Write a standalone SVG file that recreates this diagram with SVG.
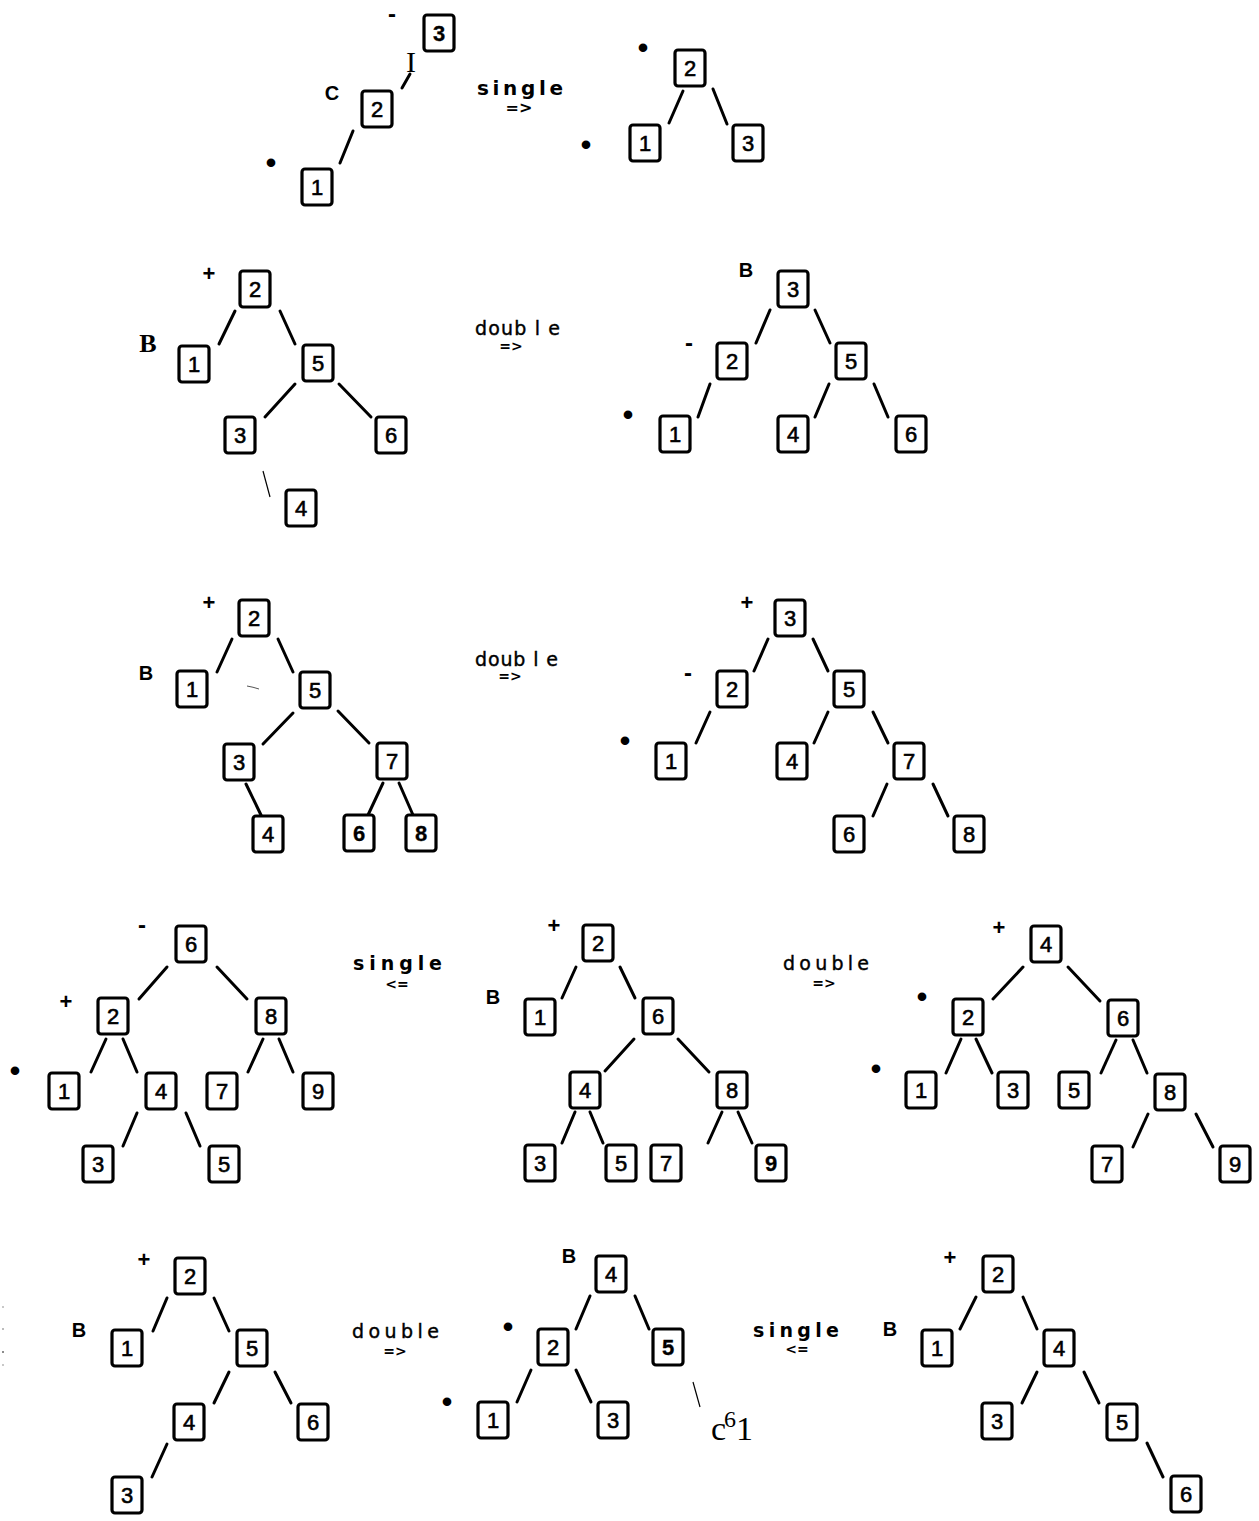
<svg xmlns="http://www.w3.org/2000/svg" width="1259" height="1521" viewBox="0 0 1259 1521">
  <style>
    .box { fill: #fff; stroke: #000; stroke-width: 3.2; }
    .num { font-family: "Liberation Sans", Arial, sans-serif; font-size: 22px; text-anchor: middle; fill: #000; stroke: #000; stroke-width: 0.6; }
    .bold { font-weight: bold; stroke-width: 0.3; }
    .edge { stroke: #000; stroke-width: 3; stroke-linecap: round; fill: none; }
    .thin { stroke: #000; stroke-width: 1.2; fill: none; }
    .mark { font-family: "Liberation Sans", Arial, sans-serif; font-weight: bold; text-anchor: middle; fill: #000; }
    .plus { font-size: 22px; }
    .minus { font-size: 24px; }
    .dot { font-size: 30px; }
    .bal { font-family: "Liberation Sans", Arial, sans-serif; font-size: 20px; font-weight: bold; text-anchor: middle; fill: #000; }
    .serif { font-family: "Liberation Serif", "Times New Roman", serif; fill: #000; }
    .op { font-family: "DejaVu Sans", sans-serif; fill: #000; stroke: #000; stroke-width: 0.4; }
    .opb { font-family: "DejaVu Sans", sans-serif; font-weight: bold; fill: #000; }
    .arrow { font-family: "DejaVu Sans", sans-serif; font-weight: bold; text-anchor: middle; fill: #000; }
  </style>
  <defs>
    <rect id="frame" x="-15" y="-18" width="30" height="36" rx="3" ry="3" class="box"/>
  </defs>

  <!-- tree edges -->
  <g id="connectors">
    <!-- row 1 -->
    <line class="edge" x1="353" y1="131" x2="340" y2="163"/>
    <line class="edge" x1="410" y1="74" x2="402" y2="88"/>
    <line class="edge" x1="683" y1="91" x2="669" y2="123"/>
    <line class="edge" x1="713" y1="89" x2="727" y2="124"/>
    <!-- row 2 -->
    <line class="edge" x1="235" y1="311" x2="219" y2="344"/>
    <line class="edge" x1="280" y1="311" x2="295" y2="344"/>
    <line class="edge" x1="295" y1="384" x2="265" y2="417"/>
    <line class="edge" x1="339" y1="384" x2="371" y2="417"/>
    <line class="thin" x1="263" y1="471" x2="270" y2="497"/>
    <line class="edge" x1="770" y1="310" x2="756" y2="343"/>
    <line class="edge" x1="815" y1="310" x2="830" y2="343"/>
    <line class="edge" x1="710" y1="384" x2="698" y2="417"/>
    <line class="edge" x1="829" y1="384" x2="815" y2="417"/>
    <line class="edge" x1="874" y1="384" x2="888" y2="417"/>
    <!-- row 3 -->
    <line class="edge" x1="232" y1="639" x2="217" y2="672"/>
    <line class="edge" x1="278" y1="639" x2="293" y2="672"/>
    <line class="edge" x1="293" y1="713" x2="263" y2="744"/>
    <line class="edge" x1="338" y1="711" x2="369" y2="743"/>
    <line class="edge" x1="246" y1="784" x2="261" y2="815"/>
    <line class="edge" x1="383" y1="783" x2="368" y2="815"/>
    <line class="edge" x1="399" y1="783" x2="413" y2="815"/>
    <line class="edge" x1="768" y1="639" x2="754" y2="671"/>
    <line class="edge" x1="813" y1="639" x2="828" y2="671"/>
    <line class="edge" x1="710" y1="712" x2="696" y2="743"/>
    <line class="edge" x1="828" y1="712" x2="814" y2="743"/>
    <line class="edge" x1="873" y1="712" x2="888" y2="743"/>
    <line class="edge" x1="887" y1="784" x2="873" y2="816"/>
    <line class="edge" x1="933" y1="784" x2="948" y2="816"/>
    <!-- row 4 -->
    <line class="edge" x1="167" y1="967" x2="139" y2="999"/>
    <line class="edge" x1="217" y1="967" x2="247" y2="999"/>
    <line class="edge" x1="106" y1="1039" x2="91" y2="1072"/>
    <line class="edge" x1="123" y1="1039" x2="137" y2="1072"/>
    <line class="edge" x1="263" y1="1039" x2="248" y2="1072"/>
    <line class="edge" x1="279" y1="1039" x2="293" y2="1072"/>
    <line class="edge" x1="137" y1="1113" x2="123" y2="1146"/>
    <line class="edge" x1="186" y1="1113" x2="200" y2="1146"/>
    <line class="edge" x1="576" y1="967" x2="562" y2="998"/>
    <line class="edge" x1="620" y1="967" x2="635" y2="998"/>
    <line class="edge" x1="634" y1="1039" x2="605" y2="1071"/>
    <line class="edge" x1="678" y1="1039" x2="709" y2="1072"/>
    <line class="edge" x1="575" y1="1112" x2="562" y2="1143"/>
    <line class="edge" x1="590" y1="1112" x2="603" y2="1143"/>
    <line class="edge" x1="722" y1="1112" x2="708" y2="1143"/>
    <line class="edge" x1="738" y1="1112" x2="752" y2="1143"/>
    <line class="edge" x1="1023" y1="967" x2="993" y2="999"/>
    <line class="edge" x1="1068" y1="967" x2="1100" y2="1001"/>
    <line class="edge" x1="961" y1="1039" x2="946" y2="1073"/>
    <line class="edge" x1="976" y1="1039" x2="992" y2="1073"/>
    <line class="edge" x1="1116" y1="1040" x2="1101" y2="1073"/>
    <line class="edge" x1="1133" y1="1040" x2="1147" y2="1073"/>
    <line class="edge" x1="1148" y1="1114" x2="1133" y2="1147"/>
    <line class="edge" x1="1196" y1="1114" x2="1213" y2="1147"/>
    <!-- row 5 -->
    <line class="edge" x1="167" y1="1298" x2="153" y2="1331"/>
    <line class="edge" x1="214" y1="1298" x2="229" y2="1331"/>
    <line class="edge" x1="229" y1="1372" x2="214" y2="1403"/>
    <line class="edge" x1="275" y1="1372" x2="291" y2="1403"/>
    <line class="edge" x1="167" y1="1444" x2="152" y2="1477"/>
    <line class="edge" x1="590" y1="1296" x2="576" y2="1329"/>
    <line class="edge" x1="635" y1="1296" x2="649" y2="1329"/>
    <line class="edge" x1="531" y1="1370" x2="517" y2="1402"/>
    <line class="edge" x1="576" y1="1370" x2="591" y2="1402"/>
    <line class="thin" x1="693" y1="1382" x2="700" y2="1407"/>
    <line class="edge" x1="976" y1="1297" x2="960" y2="1329"/>
    <line class="edge" x1="1023" y1="1297" x2="1037" y2="1329"/>
    <line class="edge" x1="1037" y1="1372" x2="1022" y2="1403"/>
    <line class="edge" x1="1084" y1="1372" x2="1099" y2="1403"/>
    <line class="edge" x1="1147" y1="1443" x2="1163" y2="1477"/>
  </g>

  <!-- row 1, left: before single rotation -->
  <g id="r1-left">
    <g id="r1l-n3" transform="translate(439,33)"><use href="#frame"/><text class="num bold" y="8">3</text></g>
    <g id="r1l-n2" transform="translate(377,109)"><use href="#frame"/><text class="num" y="8">2</text></g>
    <g id="r1l-n1" transform="translate(317,187)"><use href="#frame"/><text class="num" y="8">1</text></g>
    <text class="mark minus" x="392" y="22">-</text>
    <text class="bal" x="332" y="100">C</text>
    <text class="serif" x="411" y="72" font-size="30" text-anchor="middle">I</text>
    <text class="mark dot" x="271" y="173">•</text>
  </g>
  <g id="r1-op">
    <text class="opb" x="477" y="95" font-size="20" textLength="86" lengthAdjust="spacing">single</text>
    <text class="arrow" x="519" y="113" font-size="16">=&gt;</text>
  </g>
  <g id="r1-right">
    <g id="r1r-n2" transform="translate(690,68)"><use href="#frame"/><text class="num" y="8">2</text></g>
    <g id="r1r-n1" transform="translate(645,143)"><use href="#frame"/><text class="num" y="8">1</text></g>
    <g id="r1r-n3" transform="translate(748,143)"><use href="#frame"/><text class="num" y="8">3</text></g>
    <text class="mark dot" x="643" y="58">•</text>
    <text class="mark dot" x="586" y="155">•</text>
  </g>

  <!-- row 2 -->
  <g id="r2-left">
    <g id="r2l-n2" transform="translate(255,289)"><use href="#frame"/><text class="num" y="8">2</text></g>
    <g id="r2l-n1" transform="translate(194,364)"><use href="#frame"/><text class="num" y="8">1</text></g>
    <g id="r2l-n5" transform="translate(318,363)"><use href="#frame"/><text class="num" y="8">5</text></g>
    <g id="r2l-n3" transform="translate(240,435)"><use href="#frame"/><text class="num" y="8">3</text></g>
    <g id="r2l-n6" transform="translate(391,435)"><use href="#frame"/><text class="num" y="8">6</text></g>
    <g id="r2l-n4" transform="translate(301,508)"><use href="#frame"/><text class="num" y="8">4</text></g>
    <text class="mark plus" x="209" y="281">+</text>
    <text class="serif" x="148" y="352" font-size="26" font-weight="bold" text-anchor="middle">B</text>
  </g>
  <g id="r2-op">
    <text class="op" x="475" y="335" font-size="19" textLength="85" lengthAdjust="spacing">doub l e</text>
    <text class="arrow" x="511" y="351" font-size="14">=&gt;</text>
  </g>
  <g id="r2-right">
    <g id="r2r-n3" transform="translate(793,289)"><use href="#frame"/><text class="num" y="8">3</text></g>
    <g id="r2r-n2" transform="translate(732,361)"><use href="#frame"/><text class="num" y="8">2</text></g>
    <g id="r2r-n5" transform="translate(851,361)"><use href="#frame"/><text class="num" y="8">5</text></g>
    <g id="r2r-n1" transform="translate(675,434)"><use href="#frame"/><text class="num" y="8">1</text></g>
    <g id="r2r-n4" transform="translate(793,434)"><use href="#frame"/><text class="num" y="8">4</text></g>
    <g id="r2r-n6" transform="translate(911,434)"><use href="#frame"/><text class="num" y="8">6</text></g>
    <text class="bal" x="746" y="277">B</text>
    <text class="mark minus" x="689" y="351">-</text>
    <text class="mark dot" x="628" y="425">•</text>
  </g>

  <!-- row 3 -->
  <g id="r3-left">
    <g id="r3l-n2" transform="translate(254,618)"><use href="#frame"/><text class="num" y="8">2</text></g>
    <g id="r3l-n1" transform="translate(192,689)"><use href="#frame"/><text class="num" y="8">1</text></g>
    <g id="r3l-n5" transform="translate(315,690)"><use href="#frame"/><text class="num" y="8">5</text></g>
    <g id="r3l-n3" transform="translate(239,762)"><use href="#frame"/><text class="num" y="8">3</text></g>
    <g id="r3l-n7" transform="translate(392,761)"><use href="#frame"/><text class="num" y="8">7</text></g>
    <g id="r3l-n4" transform="translate(268,834)"><use href="#frame"/><text class="num" y="8">4</text></g>
    <g id="r3l-n6" transform="translate(359,833)"><use href="#frame"/><text class="num bold" y="8">6</text></g>
    <g id="r3l-n8" transform="translate(421,833)"><use href="#frame"/><text class="num bold" y="8">8</text></g>
    <text class="mark plus" x="209" y="610">+</text>
    <text class="bal" x="146" y="680">B</text>
    <path d="M247 686 Q253 687 259 689" stroke="#555" stroke-width="1" fill="none"/>
  </g>
  <g id="r3-op">
    <text class="op" x="475" y="666" font-size="19" textLength="83" lengthAdjust="spacing">doub l e</text>
    <text class="arrow" x="510" y="681" font-size="14">=&gt;</text>
  </g>
  <g id="r3-right">
    <g id="r3r-n3" transform="translate(790,618)"><use href="#frame"/><text class="num" y="8">3</text></g>
    <g id="r3r-n2" transform="translate(732,689)"><use href="#frame"/><text class="num" y="8">2</text></g>
    <g id="r3r-n5" transform="translate(849,689)"><use href="#frame"/><text class="num" y="8">5</text></g>
    <g id="r3r-n1" transform="translate(671,761)"><use href="#frame"/><text class="num" y="8">1</text></g>
    <g id="r3r-n4" transform="translate(792,761)"><use href="#frame"/><text class="num" y="8">4</text></g>
    <g id="r3r-n7" transform="translate(909,761)"><use href="#frame"/><text class="num" y="8">7</text></g>
    <g id="r3r-n6" transform="translate(849,834)"><use href="#frame"/><text class="num" y="8">6</text></g>
    <g id="r3r-n8" transform="translate(969,834)"><use href="#frame"/><text class="num" y="8">8</text></g>
    <text class="mark plus" x="747" y="610">+</text>
    <text class="mark minus" x="688" y="681">-</text>
    <text class="mark dot" x="625" y="751">•</text>
  </g>

  <!-- row 4 -->
  <g id="r4-left">
    <g id="r4l-n6" transform="translate(191,944)"><use href="#frame"/><text class="num" y="8">6</text></g>
    <g id="r4l-n2" transform="translate(113,1016)"><use href="#frame"/><text class="num" y="8">2</text></g>
    <g id="r4l-n8" transform="translate(271,1016)"><use href="#frame"/><text class="num" y="8">8</text></g>
    <g id="r4l-n1" transform="translate(64,1091)"><use href="#frame"/><text class="num" y="8">1</text></g>
    <g id="r4l-n4" transform="translate(161,1091)"><use href="#frame"/><text class="num" y="8">4</text></g>
    <g id="r4l-n7" transform="translate(222,1091)"><use href="#frame"/><text class="num" y="8">7</text></g>
    <g id="r4l-n9" transform="translate(318,1091)"><use href="#frame"/><text class="num" y="8">9</text></g>
    <g id="r4l-n3" transform="translate(98,1164)"><use href="#frame"/><text class="num" y="8">3</text></g>
    <g id="r4l-n5" transform="translate(224,1164)"><use href="#frame"/><text class="num" y="8">5</text></g>
    <text class="mark minus" x="142" y="933">-</text>
    <text class="mark plus" x="66" y="1009">+</text>
    <text class="mark dot" x="15" y="1081">•</text>
  </g>
  <g id="r4-op-left">
    <text class="opb" x="353" y="970" font-size="19" textLength="89" lengthAdjust="spacing">single</text>
    <text class="arrow" x="397" y="989" font-size="14">&lt;=</text>
  </g>
  <g id="r4-middle">
    <g id="r4m-n2" transform="translate(598,943)"><use href="#frame"/><text class="num" y="8">2</text></g>
    <g id="r4m-n1" transform="translate(540,1017)"><use href="#frame"/><text class="num" y="8">1</text></g>
    <g id="r4m-n6" transform="translate(658,1016)"><use href="#frame"/><text class="num" y="8">6</text></g>
    <g id="r4m-n4" transform="translate(585,1090)"><use href="#frame"/><text class="num" y="8">4</text></g>
    <g id="r4m-n8" transform="translate(732,1090)"><use href="#frame"/><text class="num" y="8">8</text></g>
    <g id="r4m-n3" transform="translate(540,1163)"><use href="#frame"/><text class="num" y="8">3</text></g>
    <g id="r4m-n5" transform="translate(621,1163)"><use href="#frame"/><text class="num" y="8">5</text></g>
    <g id="r4m-n7" transform="translate(666,1163)"><use href="#frame"/><text class="num" y="8">7</text></g>
    <g id="r4m-n9" transform="translate(771,1163)"><use href="#frame"/><text class="num bold" y="8">9</text></g>
    <text class="mark plus" x="554" y="933">+</text>
    <text class="bal" x="493" y="1004">B</text>
  </g>
  <g id="r4-op-right">
    <text class="op" x="783" y="970" font-size="19" textLength="86" lengthAdjust="spacing">double</text>
    <text class="arrow" x="824" y="988" font-size="14">=&gt;</text>
  </g>
  <g id="r4-right">
    <g id="r4r-n4" transform="translate(1046,944)"><use href="#frame"/><text class="num" y="8">4</text></g>
    <g id="r4r-n2" transform="translate(968,1017)"><use href="#frame"/><text class="num" y="8">2</text></g>
    <g id="r4r-n6" transform="translate(1123,1018)"><use href="#frame"/><text class="num" y="8">6</text></g>
    <g id="r4r-n1" transform="translate(921,1090)"><use href="#frame"/><text class="num" y="8">1</text></g>
    <g id="r4r-n3" transform="translate(1013,1090)"><use href="#frame"/><text class="num" y="8">3</text></g>
    <g id="r4r-n5" transform="translate(1074,1090)"><use href="#frame"/><text class="num" y="8">5</text></g>
    <g id="r4r-n8" transform="translate(1170,1092)"><use href="#frame"/><text class="num" y="8">8</text></g>
    <g id="r4r-n7" transform="translate(1107,1164)"><use href="#frame"/><text class="num" y="8">7</text></g>
    <g id="r4r-n9" transform="translate(1235,1164)"><use href="#frame"/><text class="num" y="8">9</text></g>
    <text class="mark plus" x="999" y="935">+</text>
    <text class="mark dot" x="922" y="1007">•</text>
    <text class="mark dot" x="876" y="1079">•</text>
  </g>

  <!-- row 5 -->
  <g id="r5-left">
    <g id="r5l-n2" transform="translate(190,1276)"><use href="#frame"/><text class="num" y="8">2</text></g>
    <g id="r5l-n1" transform="translate(127,1348)"><use href="#frame"/><text class="num" y="8">1</text></g>
    <g id="r5l-n5" transform="translate(252,1348)"><use href="#frame"/><text class="num" y="8">5</text></g>
    <g id="r5l-n4" transform="translate(189,1422)"><use href="#frame"/><text class="num" y="8">4</text></g>
    <g id="r5l-n6" transform="translate(313,1422)"><use href="#frame"/><text class="num" y="8">6</text></g>
    <g id="r5l-n3" transform="translate(127,1495)"><use href="#frame"/><text class="num" y="8">3</text></g>
    <text class="mark plus" x="144" y="1267">+</text>
    <text class="bal" x="79" y="1337">B</text>
    <g fill="#666">
      <circle cx="3" cy="1307" r="0.7"/>
      <circle cx="3" cy="1329" r="0.8"/>
      <circle cx="3" cy="1352" r="1"/>
      <circle cx="3" cy="1365" r="0.7"/>
    </g>
  </g>
  <g id="r5-op-left">
    <text class="op" x="352" y="1338" font-size="19" textLength="87" lengthAdjust="spacing">double</text>
    <text class="arrow" x="395" y="1356" font-size="14">=&gt;</text>
  </g>
  <g id="r5-middle">
    <g id="r5m-n4" transform="translate(611,1274)"><use href="#frame"/><text class="num" y="8">4</text></g>
    <g id="r5m-n2" transform="translate(553,1347)"><use href="#frame"/><text class="num" y="8">2</text></g>
    <g id="r5m-n5" transform="translate(668,1347)"><use href="#frame"/><text class="num bold" y="8">5</text></g>
    <g id="r5m-n1" transform="translate(493,1420)"><use href="#frame"/><text class="num" y="8">1</text></g>
    <g id="r5m-n3" transform="translate(613,1420)"><use href="#frame"/><text class="num" y="8">3</text></g>
    <text class="bal" x="569" y="1263">B</text>
    <text class="mark dot" x="508" y="1337">•</text>
    <text class="mark dot" x="447" y="1412">•</text>
    <text class="serif" font-size="34" y="1440"><tspan x="711">c</tspan><tspan x="724" dy="-13" font-size="24">6</tspan><tspan x="736" dy="13">1</tspan></text>
  </g>
  <g id="r5-op-right">
    <text class="opb" x="753" y="1337" font-size="19" textLength="86" lengthAdjust="spacing">single</text>
    <text class="arrow" x="797" y="1354" font-size="14">&lt;=</text>
  </g>
  <g id="r5-right">
    <g id="r5r-n2" transform="translate(998,1274)"><use href="#frame"/><text class="num" y="8">2</text></g>
    <g id="r5r-n1" transform="translate(937,1348)"><use href="#frame"/><text class="num" y="8">1</text></g>
    <g id="r5r-n4" transform="translate(1059,1348)"><use href="#frame"/><text class="num" y="8">4</text></g>
    <g id="r5r-n3" transform="translate(997,1421)"><use href="#frame"/><text class="num" y="8">3</text></g>
    <g id="r5r-n5" transform="translate(1122,1422)"><use href="#frame"/><text class="num" y="8">5</text></g>
    <g id="r5r-n6" transform="translate(1186,1494)"><use href="#frame"/><text class="num" y="8">6</text></g>
    <text class="mark plus" x="950" y="1265">+</text>
    <text class="bal" x="890" y="1336">B</text>
  </g>
</svg>
